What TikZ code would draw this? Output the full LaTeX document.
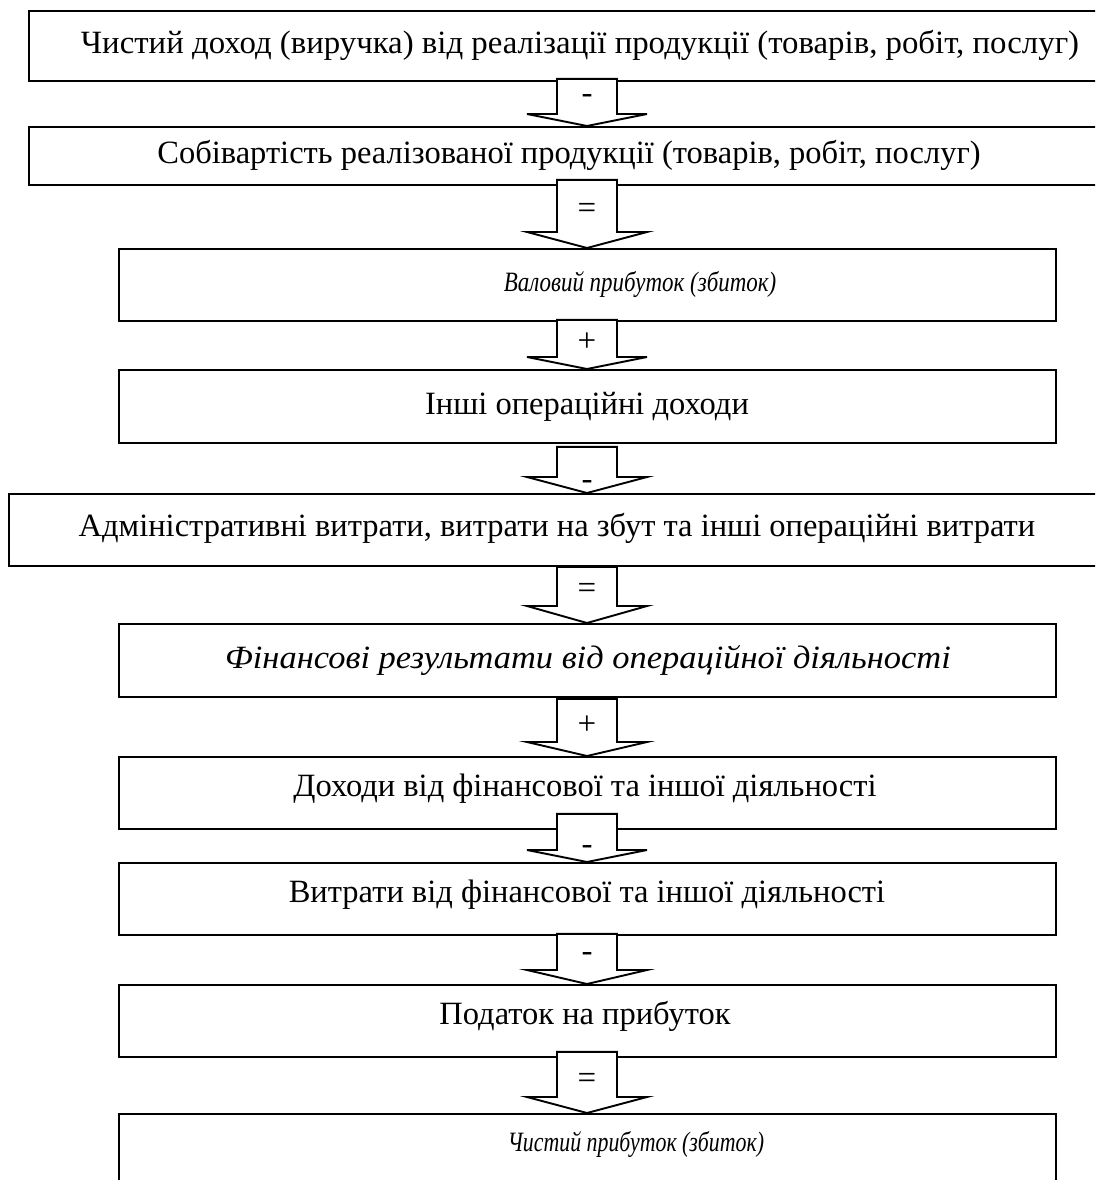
\documentclass[tikz,border=0pt]{standalone}
\usepackage{fontspec}
\usepackage{graphicx}
\setmainfont{Liberation Serif}
\usetikzlibrary{calc}
\newcommand\blkarr[6]{% #1 from node, #2 to node, #3 shaft top offset, #4 head length, #5 label, #6 label y
  \coordinate (#1s) at ($(#1.south -| ax)+(0,#3)$);
  \coordinate (#2t) at (#2.north -| ax);
  \draw[blk] ($(#1s)+(-30,0)$) -- ($(#1s)+(30,0)$) -- ($(#2t)+(30,-#4)$) -- ($(#2t)+(60,-#4)$)
    -- (#2t) -- ($(#2t)+(-60,-#4)$) -- ($(#2t)+(-30,-#4)$) -- cycle;
  \node[op, anchor=base] (#1op) at ($(ax |- 0,#6)+(0,8)$) {#5};
}
\begin{document}
\begin{tikzpicture}[x=1pt,y=-1pt,
  box/.style={draw, line width=1.9pt, rectangle, anchor=north west, inner sep=0pt, fill=white},
  lbl/.style={font=\fontsize{32.5}{39}\selectfont, inner sep=0pt, anchor=base},
  ilbl/.style={font=\fontsize{32.5}{39}\selectfont\itshape, inner sep=0pt, anchor=base},
  silbl/.style={font=\fontsize{28}{34}\selectfont\itshape, inner sep=0pt, anchor=base},
  blk/.style={draw, line width=1.9pt, fill=white, line join=miter},
  op/.style={font=\fontsize{33}{39}\selectfont, inner sep=0pt}]
\useasboundingbox (0,0) rectangle (1095,1180);
\clip (0,0) rectangle (1095,1180);
\fill[white] (0,0) rectangle (1095,1180);
\coordinate (ax) at (587,0);
% boxes
\node[box, minimum width=1102, minimum height=70] (b1) at (28,10) {};
\node[box, minimum width=1102, minimum height=58] (b2) at (28,126) {};
\node[box, minimum width=937, minimum height=72] (b3) at (118,248) {};
\node[box, minimum width=937, minimum height=73] (b4) at (118,369) {};
\node[box, minimum width=1098, minimum height=72] (b5) at (8,493) {};
\node[box, minimum width=937, minimum height=73] (b6) at (118,623) {};
\node[box, minimum width=937, minimum height=72] (b7) at (118,756) {};
\node[box, minimum width=937, minimum height=72] (b8) at (118,862) {};
\node[box, minimum width=937, minimum height=72] (b9) at (118,984) {};
\node[box, minimum width=937, minimum height=80] (b10) at (118,1113) {};
% texts
\node[lbl] (t1) at (580,54) {\scalebox{1.01}[1]{Чистий доход (виручка) від реалізації продукції (товарів, робіт, послуг)}};
\node[lbl] (t2) at (569,164) {Собівартість реалізованої продукції (товарів, робіт, послуг)};
\node[silbl] (t3) at (640,291) {\scalebox{0.82}[1]{Валовий прибуток (збиток)}};
\node[lbl] (t4) at (587,414) {Інші операційні доходи};
\node[lbl] (t5) at (557,536) {Адміністративні витрати, витрати на збут та інші операційні витрати};
\node[ilbl] (t6) at (588,668) {\scalebox{1.06}[1]{Фінансові результати від операційної діяльності}};
\node[lbl] (t7) at (585,796) {Доходи від фінансової та іншої діяльності};
\node[lbl] (t8) at (587,902) {Витрати від фінансової та іншої діяльності};
\node[lbl] (t9) at (585,1024) {Податок на прибуток};
\node[silbl] (t10) at (636,1151) {\scalebox{0.78}[1]{Чистий прибуток (збиток)}};
% arrows
\blkarr{b1}{b2}{-3}{12}{-}{96}
\blkarr{b2}{b3}{-6}{16}{=}{210}
\blkarr{b3}{b4}{-2}{12}{+}{343}
\blkarr{b4}{b5}{3}{16}{-}{481}
\blkarr{b5}{b6}{0}{17}{=}{590}
\blkarr{b6}{b7}{1}{14}{+}{726}
\blkarr{b7}{b8}{-16}{12}{-}{846}
\blkarr{b8}{b9}{-2}{14}{-}{953}
\blkarr{b9}{b10}{-6}{16}{=}{1080}
\end{tikzpicture}
\end{document}
